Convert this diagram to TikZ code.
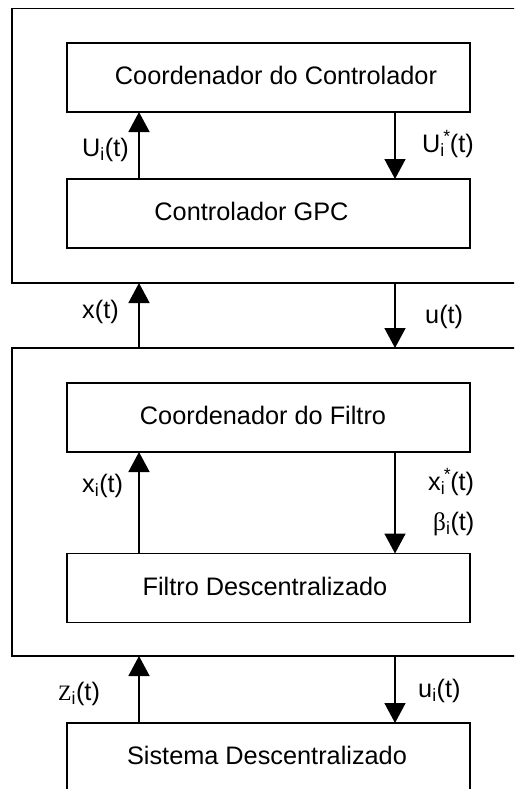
\documentclass[tikz,border=0pt]{standalone}
\usepackage{fontspec}
\setmainfont{Liberation Sans}
\newfontfamily\seriffont{Liberation Serif}
\usetikzlibrary{arrows.meta}
\begin{document}
\begin{tikzpicture}[x=1pt,y=-1pt,
  every node/.style={font=\fontsize{25.3}{30}\selectfont},
  frame/.style={draw, line width=1.8pt, anchor=north west, inner sep=0pt, outer sep=0pt},
  block/.style={draw, line width=1.8pt, anchor=north west, inner sep=0pt, outer sep=0pt,
    minimum width=403pt, minimum height=69pt, text height=14pt, text depth=0pt},
  flow/.style={line width=1.6pt, -{Triangle[width=21pt,length=20pt]}},
  sig/.style={anchor=base west, inner sep=0pt}]
\useasboundingbox (0,0) rectangle (514,789);
\clip (0,0) rectangle (514,789);

% outer frames (open to the right)
\node[frame, minimum width=540pt, minimum height=274.5pt] (ctrl) at (12,8.5) {};
\node[frame, minimum width=540pt, minimum height=308pt] (filt) at (12,348) {};

% blocks
\node[block] (cc)  at (67,43)  {\hspace*{15pt}Coordenador do Controlador};
\node[block] (gpc) at (67,179) {Controlador GPC\hspace*{34pt}};
\node[block] (cf)  at (67,383) {Coordenador do Filtro\hspace*{11pt}};
\node[block] (fd)  at (67,553.5) {Filtro Descentralizado\hspace*{7pt}};
\node[block] (sd)  at (67,723) {Sistema Descentralizado\hspace*{3pt}};

% columns of the signal lines
\coordinate (lx) at (139,0);
\coordinate (rx) at (395,0);

\draw[flow] (lx |- gpc.north) -- (lx |- cc.south);
\draw[flow] (rx |- cc.south) -- (rx |- gpc.north);
\draw[flow] (lx |- filt.north) -- (lx |- ctrl.south);
\draw[flow] (rx |- ctrl.south) -- (rx |- filt.north);
\draw[flow] (lx |- fd.north) -- (lx |- cf.south);
\draw[flow] (rx |- cf.south) -- (rx |- fd.north);
\draw[flow] (lx |- sd.north) -- (lx |- filt.south);
\draw[flow] (rx |- filt.south) -- (rx |- sd.north);

% signal labels
\node[sig] (lUi)  at (82,156)  {U\textsubscript{i}(t)};
\node[sig] (lUs)  at (422,152) {U\rlap{\textsuperscript{\,*}}\textsubscript{i}\hspace{5pt}(t)};
\node[sig] (lx1)  at (82,318)  {x(t)};
\node[sig] (lu1)  at (425,323) {u(t)};
\node[sig] (lxi)  at (82,492)  {x\textsubscript{i}(t)};
\node[sig] (lxs)  at (428,490) {x\rlap{\textsuperscript{\,*}}\textsubscript{i}\hspace{5pt}(t)};
\node[sig] (lbi)  at (433,530) {{\seriffont β}\textsubscript{i}(t)};
\node[sig] (lzi)  at (58,700)  {{\seriffont\fontsize{22}{26}\selectfont Z}\textsubscript{i}(t)};
\node[sig] (lui)  at (418,697) {u\textsubscript{i}(t)};
\end{tikzpicture}
\end{document}
